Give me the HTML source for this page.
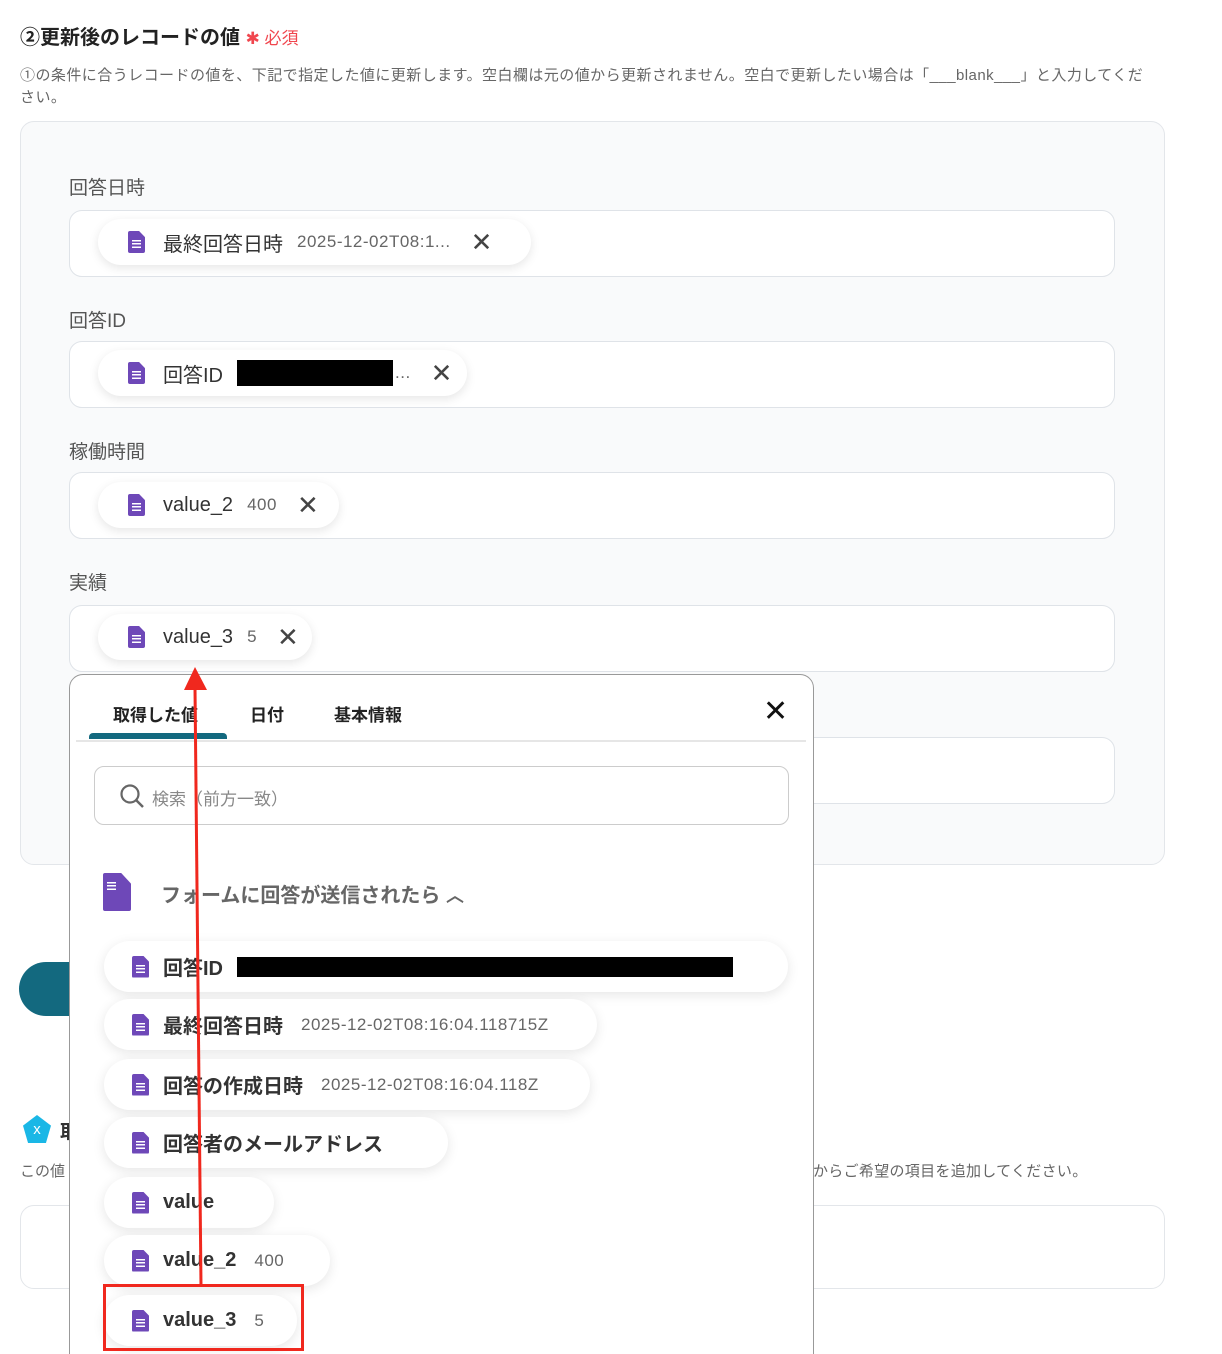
<!DOCTYPE html>
<html><head><meta charset="utf-8"><style>
*{box-sizing:border-box;margin:0;padding:0}
html,body{width:1222px;height:1354px;overflow:hidden}
body{background:#fff;position:relative;font-family:"Liberation Sans","Noto Sans CJK JP",sans-serif;color:#333}
.a{position:absolute;white-space:nowrap}
.inp{position:absolute;left:69px;width:1046px;height:67px;background:#fff;border:1.5px solid #dfe3e8;border-radius:13px}
.lab{position:absolute;left:69px;font-size:19px;color:#555}
.chip{position:absolute;height:46px;background:#fff;border-radius:23px;box-shadow:0 3px 10px rgba(0,0,0,.10);font-size:20px;color:#333;display:flex;align-items:center;padding-left:30px}
.ic{width:17px;height:22px;background:#6e48b8;border-radius:2px;position:relative;margin-right:18px;flex:none;clip-path:polygon(0 0,65% 0,100% 28%,100% 100%,0 100%)}
.ic:after{content:"";position:absolute;left:4px;top:9px;width:9px;height:8px;background:repeating-linear-gradient(#fff 0 1.5px,transparent 1.5px 3.2px)}
.v{color:#666;font-size:17px;margin-left:14px;letter-spacing:.5px}
.x{font-size:26px;color:#444;margin-left:20px;font-weight:300}
.it{position:absolute;left:104px;height:51px;background:#fff;border-radius:26px;box-shadow:0 3px 12px rgba(0,0,0,.10);display:flex;align-items:center;padding-left:28px;font-size:20px;font-weight:bold;color:#333}
.it .ic{margin-right:14px}
.it .v{font-weight:normal;margin-left:18px}
</style></head><body>
<div class="a" style="left:20px;top:21px;font-size:20px;font-weight:bold;color:#222">②更新後のレコードの値 <span style="color:#f0464e;font-size:17px;font-weight:normal">✱ 必須</span></div>
<div class="a" style="left:20px;top:65px;font-size:15px;letter-spacing:.45px;color:#666;line-height:22px">①の条件に合うレコードの値を、下記で指定した値に更新します。空白欄は元の値から更新されません。空白で更新したい場合は「___blank___」と入力してくだ<br>さい。</div>
<div class="a" style="left:20px;top:121px;width:1145px;height:744px;background:#f9fafb;border:1.5px solid #e3e6ea;border-radius:14px"></div>
<div class="lab" style="top:173px">回答日時</div>
<div class="inp" style="top:210px"></div>
<div class="chip" style="left:98px;top:219px;width:433px"><div class="ic"></div>最終回答日時<span class="v">2025-12-02T08:1...</span><span class="x">✕</span></div>
<div class="lab" style="top:306px">回答ID</div>
<div class="inp" style="top:341px"></div>
<div class="chip" style="left:98px;top:350px;width:369px"><div class="ic"></div>回答ID<span style="display:inline-block;width:156px;height:26px;background:#000;margin-left:14px"></span><span class="v" style="margin-left:2px">...</span><span class="x">✕</span></div>
<div class="lab" style="top:437px">稼働時間</div>
<div class="inp" style="top:472px"></div>
<div class="chip" style="left:98px;top:482px;width:241px"><div class="ic"></div>value_2<span class="v">400</span><span class="x">✕</span></div>
<div class="lab" style="top:568px">実績</div>
<div class="inp" style="top:605px"></div>
<div class="chip" style="left:98px;top:614px;width:214px"><div class="ic"></div>value_3<span class="v">5</span><span class="x">✕</span></div>
<div class="inp" style="top:737px"></div>

<div class="a" style="left:19px;top:962px;width:80px;height:54px;background:#13697f;border-radius:27px"></div>
<div class="a" style="left:23px;top:1115px;width:28px;height:28px;background:#1ab7e6;clip-path:polygon(50% 0,100% 38%,82% 100%,18% 100%,0 38%);color:#fff;font-size:15px;text-align:center;line-height:30px">x</div>
<div class="a" style="left:60px;top:1117px;font-size:19px;font-weight:bold">取</div>
<div class="a" style="left:20px;top:1160px;font-size:15px;color:#666">この値</div>
<div class="a" style="left:813px;top:1160px;font-size:15px;color:#666;letter-spacing:.3px">からご希望の項目を追加してください。</div>
<div class="a" style="left:20px;top:1205px;width:1145px;height:84px;border:1.5px solid #e3e6ea;border-radius:14px;background:#fff"></div>

<div class="a" style="left:69px;top:674px;width:745px;height:700px;background:#fff;border:1.5px solid #999;border-radius:14px"></div>
<div class="a" style="left:113px;top:701px;font-size:17px;font-weight:bold;color:#222">取得した値</div>
<div class="a" style="left:250px;top:701px;font-size:17px;font-weight:bold;color:#222">日付</div>
<div class="a" style="left:334px;top:701px;font-size:17px;font-weight:bold;color:#222">基本情報</div>
<div class="a" style="left:763px;top:694px;font-size:30px;color:#111;font-weight:300">✕</div>
<div class="a" style="left:89px;top:733px;width:138px;height:6px;background:#13697f;border-radius:4px 4px 0 0"></div>
<div class="a" style="left:76px;top:740px;width:730px;height:2px;background:#e6e6e6"></div>
<div class="a" style="left:94px;top:766px;width:695px;height:59px;border:1.5px solid #ccc;border-radius:10px"></div>
<svg class="a" style="left:119px;top:783px" width="28" height="28"><circle cx="11" cy="11" r="8.5" fill="none" stroke="#666" stroke-width="2.2"/><line x1="17" y1="17" x2="24" y2="24" stroke="#666" stroke-width="2.5"/></svg>
<div class="a" style="left:152px;top:785px;font-size:17px;color:#888">検索（前方一致）</div>
<div class="a ic" style="left:103px;top:873px;width:28px;height:38px"></div>
<div class="a" style="left:161px;top:879px;font-size:20px;color:#666;font-weight:bold">フォームに回答が送信されたら <span style="color:#666;font-size:18px">︿</span></div>

<div class="it" style="top:941px;width:684px"><div class="ic"></div>回答ID<span style="display:inline-block;width:496px;height:20px;background:#000;margin-left:14px"></span></div>
<div class="it" style="top:999px;width:493px"><div class="ic"></div>最終回答日時<span class="v">2025-12-02T08:16:04.118715Z</span></div>
<div class="it" style="top:1059px;width:486px"><div class="ic"></div>回答の作成日時<span class="v">2025-12-02T08:16:04.118Z</span></div>
<div class="it" style="top:1117px;width:344px"><div class="ic"></div>回答者のメールアドレス</div>
<div class="it" style="top:1177px;width:170px"><div class="ic"></div>value</div>
<div class="it" style="top:1235px;width:226px"><div class="ic"></div>value_2<span class="v">400</span></div>
<div class="it" style="top:1295px;width:193px"><div class="ic"></div>value_3<span class="v">5</span></div>
<div class="a" style="left:103px;top:1284px;width:201px;height:67px;border:3px solid #f0281e"></div>
<svg class="a" style="left:0;top:0" width="1222" height="1354"><line x1="201" y1="1286" x2="195" y2="688" stroke="#f0281e" stroke-width="3"/><polygon points="195,667 184,690 207,690" fill="#f0281e"/></svg>
</body></html>
